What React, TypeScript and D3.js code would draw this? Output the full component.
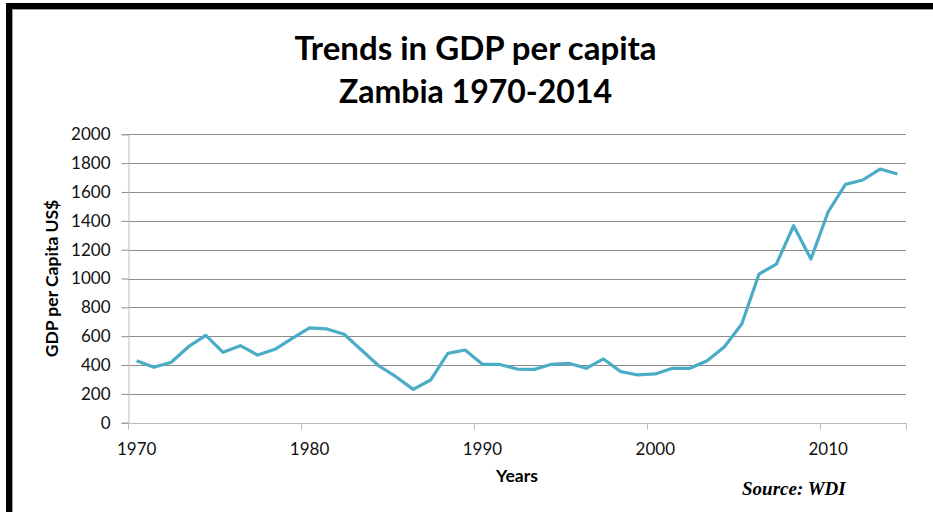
import React, { useEffect, useRef } from "react";
import * as d3 from "d3";

const years: number[] = [
  1970, 1971, 1972, 1973, 1974, 1975, 1976, 1977, 1978, 1979,
  1980, 1981, 1982, 1983, 1984, 1985, 1986, 1987, 1988, 1989,
  1990, 1991, 1992, 1993, 1994, 1995, 1996, 1997, 1998, 1999,
  2000, 2001, 2002, 2003, 2004, 2005, 2006, 2007, 2008, 2009,
  2010, 2011, 2012, 2013, 2014,
];
const gdpPerCapita: number[] = [
  430, 384, 419, 527, 606, 488, 534, 469, 509, 585,
  657, 650, 613, 504, 395, 319, 231, 296, 481, 504,
  405, 404, 372, 370, 405, 412, 377, 442, 354, 331,
  338, 377, 377, 430, 527, 684, 1031, 1100, 1366, 1135,
  1463, 1653, 1683, 1759, 1725,
];
const yTicks: number[] = [0, 200, 400, 600, 800, 1000, 1200, 1400, 1600, 1800, 2000];
const xTickYears: number[] = [1970, 1980, 1990, 2000, 2010];
const titleLines: string[] = ["Trends in GDP per capita", "Zambia 1970-2014"];
const yAxisTitle = "GDP per Capita US$";
const xAxisTitle = "Years";
const sourceText = "Source: WDI";

const W = 933;
const H = 512;
const plot = { left: 128, right: 906, top: 134.3, bottom: 422.7 };
const FONT = "Lato, 'Open Sans', sans-serif";

export default function App() {
  const ref = useRef<SVGSVGElement | null>(null);

  useEffect(() => {
    const svg = d3.select(ref.current);
    svg.selectAll("*").remove();

    const x = d3
      .scaleBand<number>()
      .domain(years)
      .range([plot.left, plot.right])
      .paddingInner(0)
      .paddingOuter(0);
    const y = d3.scaleLinear().domain([0, 2000]).range([plot.bottom, plot.top]);

    svg.append("rect").attr("x", 0).attr("y", 0).attr("width", W).attr("height", H).attr("fill", "#fff");

    // frame
    svg.append("rect").attr("x", 6).attr("y", 3).attr("width", 6).attr("height", H).attr("fill", "#000");
    svg.append("rect").attr("x", 6).attr("y", 3).attr("width", W).attr("height", 6).attr("fill", "#000");
    svg.append("line").attr("x1", 12.5).attr("x2", 12.5).attr("y1", 9).attr("y2", H).attr("stroke", "#a0a0a0").attr("stroke-width", 1);
    svg.append("line").attr("x1", 12).attr("x2", W).attr("y1", 9.5).attr("y2", 9.5).attr("stroke", "#a0a0a0").attr("stroke-width", 1);

    // title
    const titleSizes = [33, 32];
    const titleY = [60, 103];
    titleLines.forEach((t, i) => {
      svg
        .append("text")
        .attr("x", 475.5)
        .attr("y", titleY[i])
        .attr("text-anchor", "middle")
        .attr("font-family", FONT)
        .attr("font-weight", 700)
        .attr("font-size", titleSizes[i])
        .attr("fill", "#000")
        .text(t);
    });

    // gridlines
    svg
      .append("g")
      .selectAll("line")
      .data(yTicks.filter((d) => d > 0))
      .join("line")
      .attr("x1", plot.left)
      .attr("x2", plot.right)
      .attr("y1", (d) => Math.round(y(d)) + 0.5)
      .attr("y2", (d) => Math.round(y(d)) + 0.5)
      .attr("stroke", "#8c8c8c")
      .attr("stroke-width", 1);

    // y axis
    const yAxis = d3
      .axisLeft(y)
      .tickValues(yTicks)
      .tickSize(7)
      .tickPadding(11)
      .tickFormat((d) => String(d));
    const gy = svg.append("g").attr("transform", `translate(${plot.left + 0.5},0)`).call(yAxis);
    gy.select(".domain").attr("stroke", "#bdbdbd");
    gy.selectAll(".tick line").attr("stroke", "#8c8c8c");
    gy.selectAll(".tick text")
      .attr("font-family", FONT)
      .attr("font-size", 17)
      .attr("fill", "#111");

    // x axis baseline
    svg
      .append("line")
      .attr("x1", plot.left)
      .attr("x2", plot.right)
      .attr("y1", Math.round(plot.bottom) + 0.5)
      .attr("y2", Math.round(plot.bottom) + 0.5)
      .attr("stroke", "#bdbdbd");

    // x ticks at category boundaries
    const tickPositions = [...xTickYears.map((yr) => x(yr) as number), plot.right];
    svg
      .append("g")
      .selectAll("line")
      .data(tickPositions)
      .join("line")
      .attr("x1", (d) => Math.round(d) + 0.5)
      .attr("x2", (d) => Math.round(d) + 0.5)
      .attr("y1", plot.bottom)
      .attr("y2", plot.bottom + 7)
      .attr("stroke", "#bdbdbd");

    svg
      .append("g")
      .selectAll("text")
      .data(xTickYears)
      .join("text")
      .attr("x", (d) => (x(d) as number) + x.bandwidth() / 2)
      .attr("y", 455)
      .attr("text-anchor", "middle")
      .attr("font-family", FONT)
      .attr("font-size", 17)
      .attr("fill", "#111")
      .text((d) => String(d));

    // line
    const line = d3
      .line<number>()
      .x((_, i) => (x(years[i]) as number) + x.bandwidth() / 2)
      .y((d) => y(d));
    svg
      .append("path")
      .datum(gdpPerCapita)
      .attr("d", line)
      .attr("fill", "none")
      .attr("stroke", "#4BACC6")
      .attr("stroke-width", 3.2)
      .attr("stroke-linejoin", "round");

    // axis titles
    svg
      .append("text")
      .attr("transform", `translate(58,${(plot.top + plot.bottom) / 2}) rotate(-90)`)
      .attr("text-anchor", "middle")
      .attr("font-family", FONT)
      .attr("font-weight", 700)
      .attr("font-size", 17.5)
      .attr("fill", "#000")
      .text(yAxisTitle);

    svg
      .append("text")
      .attr("x", (plot.left + plot.right) / 2)
      .attr("y", 482)
      .attr("text-anchor", "middle")
      .attr("font-family", FONT)
      .attr("font-weight", 700)
      .attr("font-size", 17.5)
      .attr("fill", "#000")
      .text(xAxisTitle);

    svg
      .append("text")
      .attr("x", 742)
      .attr("y", 495)
      .attr("font-family", "'Liberation Serif', 'DejaVu Serif', serif")
      .attr("font-weight", 700)
      .attr("font-style", "italic")
      .attr("font-size", 19)
      .attr("fill", "#000")
      .text(sourceText);
  }, []);

  return (
    <svg
      ref={ref}
      width={W}
      height={H}
      style={{ position: "absolute", left: 0, top: 0, display: "block" }}
    />
  );
}
